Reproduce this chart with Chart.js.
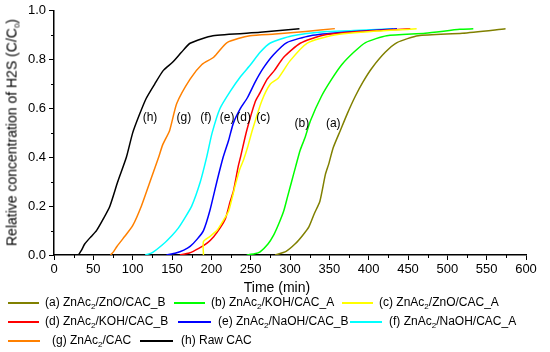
<!DOCTYPE html>
<html>
<head>
<meta charset="utf-8">
<script src="https://cdn.jsdelivr.net/npm/chart.js"></script>
<style>
	body { margin: 0; background: #fff; font-family: "Liberation Sans", Arial, sans-serif; }
	#wrap { position: relative; width: 550px; height: 352px; overflow: hidden; }
	#chart { position: absolute; left: 0; top: 0; }
	.ytitle { position: absolute; width: 280px; left: -128.5px; top: 124px; height: 17px; line-height: 17px;
		text-align: center; font-size: 14px; color: #000; transform: rotate(-90deg); white-space: nowrap; }
	.xtitle { position: absolute; left: 0; width: 554px; top: 279px; text-align: center; font-size: 14px; color: #000; }
	.lg-line { position: absolute; height: 2px; }
	.lg-text { position: absolute; font-size: 12px; line-height: 14px; color: #000; white-space: nowrap; }
	sub { font-size: 8px; vertical-align: -3px; line-height: 0; }
</style>
</head>
<body>
<div id="wrap">
	<canvas id="chart" width="550" height="352"></canvas>
	<div class="ytitle">Relative concentration of H2S (C/C<sub>0</sub>)</div>
	<div class="xtitle">Time (min)</div>
	<div id="legend"></div>
</div>
<script>
// time (min) / C/C0 pairs
var curveA = [[281,0],[295,0.015],[307,0.047],[316,0.08],[324,0.115],[331,0.17],[338,0.22],[345,0.33],[349,0.37],[355,0.44],[364,0.51],[373,0.58],[383,0.65],[393,0.71],[404,0.765],[421,0.83],[436,0.87],[463,0.898],[519,0.908],[574,0.926]];
var curveB = [[245,0],[255,0.005],[262,0.013],[272,0.045],[279,0.08],[286,0.13],[292,0.18],[297,0.24],[302,0.3],[307,0.36],[313,0.43],[319,0.48],[326,0.55],[340,0.65],[353,0.72],[366,0.78],[381,0.83],[396,0.87],[423,0.898],[472,0.908],[516,0.924],[533,0.926]];
var curveC = [[190,0],[190,0.055],[198,0.075],[207,0.1],[215,0.14],[222,0.18],[230,0.28],[236,0.35],[241,0.39],[246,0.44],[252,0.51],[264,0.63],[275,0.70],[285,0.724],[300,0.795],[322,0.868],[355,0.9],[410,0.917],[461,0.926]];
var curveD = [[160,0],[172,0.008],[184,0.027],[195,0.05],[203,0.075],[211,0.11],[218,0.15],[224,0.22],[228,0.26],[234,0.36],[237,0.4],[245,0.51],[256,0.63],[262,0.665],[271,0.72],[280,0.755],[292,0.81],[313,0.867],[342,0.9],[389,0.915],[453,0.926]];
var curveE = [[143,0],[155,0.008],[165,0.02],[173,0.035],[182,0.065],[190,0.1],[198,0.18],[207,0.3],[215,0.4],[222,0.47],[228,0.54],[237,0.6],[246,0.645],[256,0.71],[266,0.765],[279,0.82],[296,0.87],[326,0.898],[368,0.912],[436,0.926]];
var curveF = [[116,0],[125,0.01],[139,0.045],[150,0.08],[158,0.11],[166,0.15],[175,0.2],[186,0.3],[194,0.4],[201,0.5],[211,0.6],[224,0.67],[237,0.73],[250,0.78],[262,0.83],[275,0.868],[302,0.897],[347,0.915],[389,0.92],[431,0.926]];
var curveG = [[72,0],[76,0.015],[80,0.035],[92,0.085],[100,0.12],[111,0.2],[122,0.3],[133,0.4],[138,0.45],[147,0.51],[156,0.62],[173,0.72],[188,0.78],[203,0.81],[220,0.87],[249,0.898],[281,0.905],[320,0.915],[357,0.927]];
var curveH = [[31,0],[35,0.02],[39,0.045],[47,0.075],[54,0.1],[63,0.15],[71,0.2],[81,0.3],[92,0.4],[100,0.5],[108,0.57],[117,0.64],[128,0.7],[139,0.756],[151,0.79],[162,0.83],[173,0.867],[202,0.898],[262,0.912],[312,0.926]];

var seriesNames = ['(a) ZnAc<sub>2</sub>/ZnO/CAC_B', '(b) ZnAc<sub>2</sub>/KOH/CAC_A', '(c) ZnAc<sub>2</sub>/ZnO/CAC_A',
	'(d) ZnAc<sub>2</sub>/KOH/CAC_B', '(e) ZnAc<sub>2</sub>/NaOH/CAC_B', '(f) ZnAc<sub>2</sub>/NaOH/CAC_A',
	'(g) ZnAc<sub>2</sub>/CAC', '(h) Raw CAC'];
var seriesColors = ['#808000', '#00ff00', '#ffff00', '#ff0000', '#0000ff', '#00ffff', '#ff8000', '#000000'];
var curves = [curveA, curveB, curveC, curveD, curveE, curveF, curveG, curveH];

// curve tags written on the plot
var tagText = ['(a)', '(b)', '(c)', '(d)', '(e)', '(f)', '(g)', '(h)'];
var tagTime = [355, 315, 266, 241, 220, 193, 165, 122];
var tagConc = [0.539, 0.539, 0.562, 0.562, 0.562, 0.562, 0.562, 0.562];

// legend placement (px): row middle, line start, line length, text start
var lgRow = [303, 303, 303, 322, 322, 322, 341, 341];
var lgLine = [8, 174, 342, 8, 178, 350, 8, 140];
var lgLen = [31, 31, 31, 31, 33, 32, 32, 33];
var lgText = [45, 211, 379, 45, 218, 389, 52, 181];

var legend = document.getElementById('legend');
for (let i = 0; i < seriesNames.length; i++) {
	var ln = document.createElement('div');
	ln.className = 'lg-line';
	ln.style.left = lgLine[i] + 'px';
	ln.style.width = lgLen[i] + 'px';
	ln.style.top = (lgRow[i] - 1) + 'px';
	ln.style.backgroundColor = seriesColors[i];
	legend.appendChild(ln);
	var tx = document.createElement('div');
	tx.className = 'lg-text';
	tx.style.left = lgText[i] + 'px';
	tx.style.top = (lgRow[i] - 8) + 'px';
	tx.innerHTML = seriesNames[i];
	legend.appendChild(tx);
}

var minorTicks = {
	id: 'minorTicks',
	afterDraw(chart) {
		var ctx = chart.ctx, x = chart.scales.x, y = chart.scales.y;
		ctx.save();
		ctx.strokeStyle = '#000';
		ctx.lineWidth = 1;
		for (let v = 25; v < 600; v += 50) {
			var px = Math.round(x.getPixelForValue(v)) + 0.5;
			ctx.beginPath(); ctx.moveTo(px, y.bottom); ctx.lineTo(px, y.bottom + 3); ctx.stroke();
		}
		for (let v = 0.1; v < 1; v += 0.2) {
			var py = Math.round(y.getPixelForValue(v)) + 0.5;
			ctx.beginPath(); ctx.moveTo(x.left, py); ctx.lineTo(x.left - 3, py); ctx.stroke();
		}
		// tags
		ctx.fillStyle = '#000';
		ctx.font = '12px "Liberation Sans", Arial, sans-serif';
		ctx.textAlign = 'center';
		ctx.textBaseline = 'middle';
		for (let i = 0; i < tagText.length; i++) {
			ctx.fillText(tagText[i], x.getPixelForValue(tagTime[i]), y.getPixelForValue(tagConc[i]));
		}
		ctx.restore();
	}
};

var datasets = curves.map(function (c, i) {
	return {
		label: seriesNames[i].replace(/<\/?sub>/g, ''),
		data: c.map(function (p) { return { x: p[0], y: p[1] }; }),
		borderColor: seriesColors[i],
		backgroundColor: seriesColors[i],
		borderWidth: 1.5,
		pointRadius: 0,
		tension: 0.2,
		fill: false
	};
});

new Chart(document.getElementById('chart'), {
	type: 'line',
	data: { datasets: datasets },
	options: {
		responsive: false,
		animation: false,
		events: [],
		layout: { padding: { left: 0, right: 24, top: 9, bottom: 0 } },
		plugins: { legend: { display: false }, tooltip: { enabled: false } },
		scales: {
			x: {
				type: 'linear',
				min: 0, max: 600,
				afterFit: function (s) { s.height = 97; },
				grid: { drawOnChartArea: false, drawTicks: true, tickLength: 5, tickColor: '#000', tickWidth: 1 },
				border: { display: true, color: '#000', width: 1.5 },
				ticks: { stepSize: 50, padding: 2, color: '#000', font: { size: 13, family: '"Liberation Sans", Arial, sans-serif' }, maxRotation: 0 }
			},
			y: {
				min: 0, max: 1,
				afterFit: function (s) { s.width = 54; },
				grid: { drawOnChartArea: false, drawTicks: true, tickLength: 5, tickColor: '#000', tickWidth: 1 },
				border: { display: true, color: '#000', width: 1.5 },
				ticks: { stepSize: 0.2, padding: 3, color: '#000', font: { size: 13, family: '"Liberation Sans", Arial, sans-serif' },
					callback: function (v) { return v.toFixed(1); } }
			}
		}
	},
	plugins: [minorTicks]
});
</script>
</body>
</html>
